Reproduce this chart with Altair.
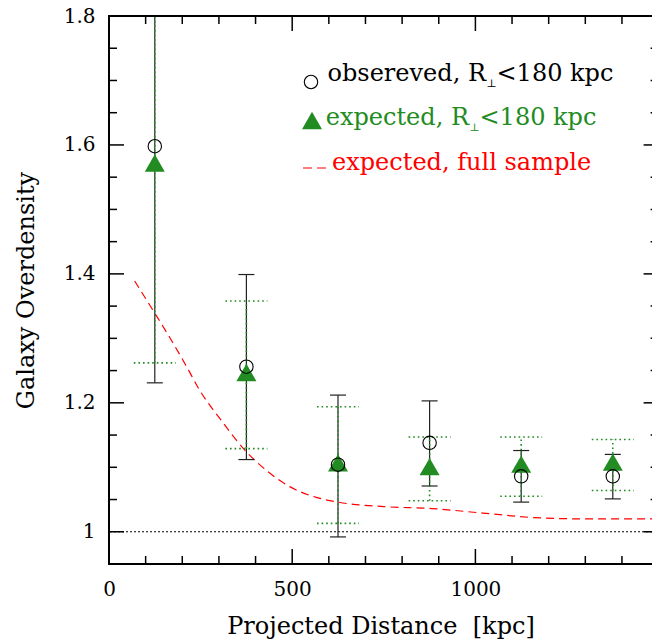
import altair as alt
import pandas as pd

# ---------------- data ----------------
bins = [125, 375, 625, 875, 1125, 1375]
obs_y = [1.598, 1.256, 1.104, 1.138, 1.086, 1.086]
obs_lo = [1.231, 1.112, 0.992, 1.071, 1.046, 1.051]
obs_hi = [1.95, 1.399, 1.212, 1.203, 1.126, 1.120]
exp_y = [1.572, 1.247, 1.107, 1.101, 1.105, 1.108]
exp_lo = [1.262, 1.129, 1.013, 1.048, 1.055, 1.064]
exp_hi = [1.95, 1.358, 1.194, 1.147, 1.147, 1.143]

curve_x = [70, 125, 165, 210, 247, 310, 375, 430, 493, 556, 625, 750, 880, 1020, 1160, 1300, 1482]
curve_y = [1.389, 1.339, 1.302, 1.258, 1.220, 1.170, 1.124, 1.095, 1.070, 1.055, 1.046,
           1.039, 1.036, 1.029, 1.022, 1.020, 1.020]

x_major = [500, 1000]
x_minor = [100, 200, 300, 400, 600, 700, 800, 900, 1100, 1200, 1300, 1400]
y_major = [1.0, 1.2, 1.4, 1.6]
y_minor = [1.05, 1.1, 1.15, 1.25, 1.3, 1.35, 1.45, 1.5, 1.55, 1.65, 1.7, 1.75]
x_labels = [0, 500, 1000]
y_labels = [1.0, 1.2, 1.4, 1.6, 1.8]

# ---------------- layout ----------------
W, H = 543, 548
XMAX, XFRAME = 1482, 1500
YMIN, YMAX = 0.95, 1.8
FONT = "DejaVu Serif"
GREEN = "#228B22"
MAJ, MIN = 15, 8

df = pd.DataFrame(dict(x=bins, obs=obs_y, obs_lo=obs_lo, obs_hi=obs_hi,
                       exp=exp_y, exp_lo=exp_lo, exp_hi=exp_hi))
cdf = pd.DataFrame(dict(x=curve_x, y=curve_y))

xs = alt.Scale(domain=[0, XMAX], nice=False, zero=False)
ys = alt.Scale(domain=[YMIN, YMAX], nice=False, zero=False)

AXX = alt.Axis(
    values=x_labels, format="d", ticks=False, tickSize=0, domain=False, grid=False,
    labelFont=FONT, labelFontSize=20, labelColor="black", labelPadding=15,
    labelFlush=False, title="Projected Distance \u00a0[kpc]", titleFont=FONT,
    titleFontSize=24, titleFontWeight="normal", titleColor="black",
    titleY=69, titleBaseline="alphabetic")
AXY = alt.Axis(
    values=y_labels, format="~g", ticks=False, tickSize=0, domain=False, grid=False,
    labelFont=FONT, labelFontSize=20, labelColor="black", labelPadding=14,
    labelFlush=False, title="Galaxy Overdensity", titleFont=FONT,
    titleFontSize=24, titleFontWeight="normal", titleColor="black",
    titleX=-76, titleY=H / 2, titleAngle=270, titleBaseline="alphabetic",
    titleAlign="center")


def X(f, **kw):
    return alt.X(f, type="quantitative", scale=xs, axis=AXX, **kw)


def Y(f, **kw):
    return alt.Y(f, type="quantitative", scale=ys, axis=AXY, **kw)


layers = []

# y = 1 dotted reference line
layers.append(alt.Chart(alt.Data(values=[{}])).transform_calculate(v="1.0").mark_rule(
    color="black", strokeDash=[2, 2], strokeWidth=1).encode(y=Y("v")))

# red dashed expected curve
layers.append(alt.Chart(cdf).mark_line(color="red", strokeDash=[8, 5], strokeWidth=1.2,
                                       clip=True, interpolate="monotone")
              .encode(x=X("x"), y=Y("y")))

# black error bars
layers.append(alt.Chart(df).mark_rule(color="#222222", strokeWidth=1.2, clip=True)
              .encode(x=X("x"), y=Y("obs_lo"), y2="obs_hi"))
for f in ["obs_lo", "obs_hi"]:
    layers.append(alt.Chart(df).mark_rule(color="#222222", strokeWidth=1.2, clip=True,
                                          xOffset=-8, x2Offset=8)
                  .encode(x=X("x"), x2="x", y=Y(f)))

# green dotted error bars
layers.append(alt.Chart(df).mark_rule(color=GREEN, strokeWidth=1.6, strokeDash=[1.6, 3], clip=True)
              .encode(x=X("x"), y=Y("exp_lo"), y2="exp_hi"))
for f in ["exp_lo", "exp_hi"]:
    layers.append(alt.Chart(df).mark_rule(color=GREEN, strokeWidth=1.6, strokeDash=[1.6, 3],
                                          clip=True, xOffset=-21, x2Offset=21)
                  .encode(x=X("x"), x2="x", y=Y(f)))

# markers
layers.append(alt.Chart(df).mark_point(shape="triangle-up", size=400, filled=True,
                                       color=GREEN, opacity=1, clip=True)
              .encode(x=X("x"), y=Y("exp")))
layers.append(alt.Chart(df).mark_point(shape="circle", size=180, filled=False,
                                       color="black", strokeWidth=1.1, opacity=1, clip=True)
              .encode(x=X("x"), y=Y("obs")))

# ticks (inward, all four sides)
for vals, L in [(x_major, MAJ), (x_minor, MIN)]:
    tdf = pd.DataFrame(dict(t=vals))
    layers.append(alt.Chart(tdf).mark_rule(color="black", strokeWidth=1.5)
                  .encode(x=X("t"), y=alt.value(H), y2=alt.value(H - L)))
    layers.append(alt.Chart(tdf).mark_rule(color="black", strokeWidth=1.5)
                  .encode(x=X("t"), y=alt.value(0), y2=alt.value(L)))
for vals, L in [(y_major, MAJ), (y_minor, MIN)]:
    tdf = pd.DataFrame(dict(t=vals, r=[XFRAME] * len(vals)))
    layers.append(alt.Chart(tdf).mark_rule(color="black", strokeWidth=1.5)
                  .encode(y=Y("t"), x=alt.value(0), x2=alt.value(L)))
    layers.append(alt.Chart(tdf).mark_rule(color="black", strokeWidth=1.5, clip=True, xOffset=-L)
                  .encode(y=Y("t"), x=X("r"), x2="r"))

# frame (left, top, bottom; right side lies outside the picture)
one = alt.Data(values=[{}])
layers.append(alt.Chart(one).mark_rule(color="black", strokeWidth=2)
              .encode(x=alt.value(0), y=alt.value(0), y2=alt.value(H)))
layers.append(alt.Chart(one).mark_rule(color="black", strokeWidth=2)
              .encode(y=alt.value(0), x=alt.value(-1), x2=alt.value(W)))
layers.append(alt.Chart(one).mark_rule(color="black", strokeWidth=2)
              .encode(y=alt.value(H), x=alt.value(-1), x2=alt.value(W)))

# legend
LFS = 24
rows = [
    ("obsereved, R", "<180 kpc", "black", 65, 377),
    ("expected, R", "<180 kpc", GREEN, 109, 360),
]
for main, rest, col, base, rend in rows:
    layers.append(alt.Chart(one).mark_text(text=main, font=FONT, fontSize=LFS, color=col,
                                           align="right", baseline="alphabetic")
                  .encode(x=alt.value(rend), y=alt.value(base)))
    layers.append(alt.Chart(one).mark_text(text="\u22a5", font=FONT, fontSize=11, color=col,
                                           align="left", baseline="alphabetic")
                  .encode(x=alt.value(rend + 0.5), y=alt.value(base + 6)))
    layers.append(alt.Chart(one).mark_text(text=rest, font=FONT, fontSize=LFS, color=col,
                                           align="left", baseline="alphabetic")
                  .encode(x=alt.value(rend + 10.5), y=alt.value(base)))
layers.append(alt.Chart(one).mark_text(text="expected, full sample", font=FONT, fontSize=LFS,
                                       color="red", align="left", baseline="alphabetic")
              .encode(x=alt.value(223), y=alt.value(154)))
layers.append(alt.Chart(one).mark_rule(color="red", strokeWidth=1.2, strokeDash=[9, 5])
              .encode(x=alt.value(194), x2=alt.value(219), y=alt.value(152)))
layers.append(alt.Chart(one).mark_point(shape="circle", size=180, filled=False, color="black",
                                        strokeWidth=1.1, opacity=1)
              .encode(x=alt.value(202), y=alt.value(66)))
layers.append(alt.Chart(one).mark_point(shape="triangle-up", size=400, filled=True,
                                        color=GREEN, opacity=1)
              .encode(x=alt.value(203), y=alt.value(104.5)))

chart = alt.layer(*layers).properties(
    width=W, height=H,
    autosize=alt.AutoSizeParams(type="none"),
    padding={"left": 109, "top": 16, "right": 0, "bottom": 80},
    background="white",
).configure_view(stroke=None)

chart.save("out.html", embed_options={"renderer": "svg", "actions": False})
